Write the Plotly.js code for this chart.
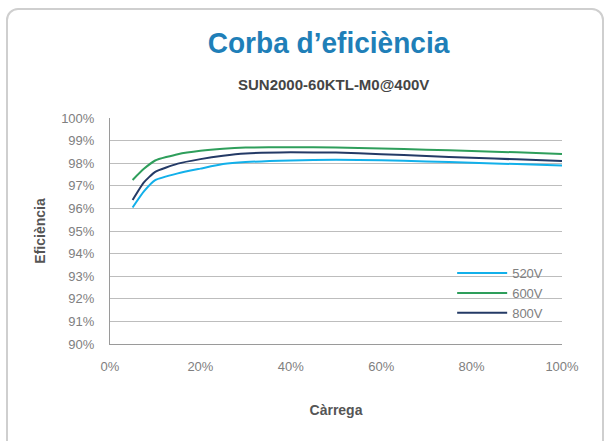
<!DOCTYPE html>
<html><head><meta charset="utf-8">
<script src="https://cdn.plot.ly/plotly-3.0.1.min.js"></script>
<style>
html,body{margin:0;padding:0;background:#fff;}
#frame{position:absolute;left:6px;top:8px;width:598px;height:460px;border:2px solid #cfcfcf;border-radius:12px;box-sizing:border-box;}
#chart{position:absolute;left:0;top:0;width:612px;height:441px;}
</style></head>
<body>
<div id="frame"></div>
<div id="chart"></div>
<script>
const load = [5, 7.5, 10, 15, 20, 25, 30, 40, 50, 60, 70, 80, 90, 100];
const eff520 = [96.04, 96.75, 97.25, 97.55, 97.76, 97.96, 98.05, 98.12, 98.15, 98.13, 98.08, 98.02, 97.96, 97.9];
const eff600 = [97.26, 97.75, 98.12, 98.4, 98.55, 98.64, 98.69, 98.71, 98.7, 98.65, 98.6, 98.54, 98.48, 98.41];
const eff800 = [96.37, 97.15, 97.62, 97.98, 98.18, 98.33, 98.43, 98.48, 98.47, 98.4, 98.32, 98.24, 98.17, 98.1];
const seriesNames = ['520V', '600V', '800V'];
const seriesColors = ['#12b0ea', '#2e9e5b', '#243a66'];
const xTicks = [0, 20, 40, 60, 80, 100];
const yTicks = [90, 91, 92, 93, 94, 95, 96, 97, 98, 99, 100];

const NF = '"Liberation Sans",Arial,sans-serif';
const series = [eff520, eff600, eff800];
const traces = series.map((v, i) => ({
  x: load, y: v, type: 'scatter', mode: 'lines', name: seriesNames[i],
  line: {color: seriesColors[i], width: 2, shape: 'spline', smoothing: 0.5}
}));

const layout = {
  width: 612, height: 441,
  paper_bgcolor: 'rgba(0,0,0,0)', plot_bgcolor: 'rgba(0,0,0,0)',
  margin: {l: 110, r: 50, t: 118, b: 97},
  showlegend: true,
  legend: {x: 0.757, y: 0.38, xanchor: 'left', yanchor: 'top', bgcolor: 'rgba(0,0,0,0)', itemwidth: 50,
    font: {family: NF, size: 13, color: '#808080'}, tracegroupgap: 0},
  title: {text: 'Corba d\u2019eficiència', x: 328.5 / 612, xanchor: 'center', y: 1 - 42.5 / 441, yanchor: 'middle',
    font: {family: NF, size: 30, color: '#1f7fb8', weight: 'bold'}},
  annotations: [
    {text: '<b>SUN2000-60KTL-M0@400V</b>', xref: 'paper', yref: 'paper', x: (333 - 110) / 452, y: 1, yshift: 118 - 84,
      xanchor: 'center', yanchor: 'middle', showarrow: false, font: {family: NF, size: 15, color: '#454545'}}
  ],
  xaxis: {
    range: [0, 100], tickvals: xTicks, ticktext: xTicks.map(t => t + '%'),
    showgrid: false, zeroline: false, showline: true, linecolor: '#9a9a9a', linewidth: 1,
    ticks: '', ticklen: 0, ticklabelstandoff: 10, tickfont: {family: NF, size: 13, color: '#808080'},
    title: {text: '<b>Càrrega</b>', font: {family: NF, size: 14, color: '#555'}, standoff: 32},
    fixedrange: true
  },
  yaxis: {
    range: [90, 100], tickvals: yTicks, ticktext: yTicks.map(t => t + '%'),
    showgrid: true, gridcolor: '#bdbdbd', gridwidth: 1, zeroline: false,
    showline: true, linecolor: '#9a9a9a', linewidth: 1, ticks: '', ticklen: 0, ticklabelstandoff: 12,
    tickfont: {family: NF, size: 13, color: '#808080'},
    title: {text: '<b>Eficiència</b>', font: {family: NF, size: 14, color: '#555'}, standoff: 12},
    fixedrange: true
  }
};
function post() {
  const t = document.querySelector('.gtitle');
  if (t && !t.dataset.scaled) {
    const b = t.getBBox();
    const cx = b.x + b.width / 2;
    t.setAttribute('transform', `translate(${cx},0) scale(0.935,1) translate(${-cx},0)`);
    t.dataset.scaled = '1';
  }
}
Plotly.newPlot('chart', traces, layout, {staticPlot: true}).then(() => { post(); setTimeout(post, 50); });
</script>
</body></html>
